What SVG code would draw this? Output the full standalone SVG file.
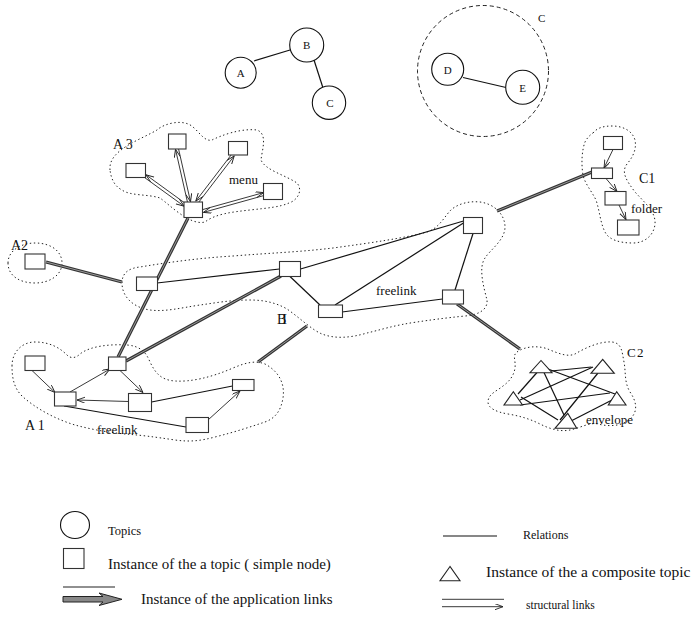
<svg xmlns="http://www.w3.org/2000/svg" width="693" height="621" viewBox="0 0 693 621">
<style>
text{font-family:"Liberation Serif","Times New Roman",serif;fill:#111}
.topic{fill:#fff;stroke:#111;stroke-width:1.1}
.node{fill:#fff;stroke:#333;stroke-width:1.1}
.tri{fill:#fff;stroke:#222;stroke-width:1.1}
.rel{stroke:#111;stroke-width:1.2;fill:none}
.str{stroke:#222;stroke-width:0.9;fill:none}
.arr{marker-end:url(#oa)}
.arrs{marker-start:url(#oas)}
.appo{stroke:#333;stroke-width:3.2;fill:none}
.appi{stroke:#999;stroke-width:1;fill:none}
.cloud{fill:none;stroke:#222;stroke-width:1;stroke-dasharray:1.4 2.6}
.big{font-size:14px}
.sm{font-size:11px}
.lab{font-size:13px}
</style>
<defs>
<marker id="oa" markerUnits="userSpaceOnUse" markerWidth="10" markerHeight="8" refX="8" refY="3" orient="auto"><path d="M0,0 L8,3 L0,6" fill="none" stroke="#222" stroke-width="0.9"/></marker>
<marker id="oas" markerUnits="userSpaceOnUse" markerWidth="10" markerHeight="8" refX="8" refY="3" orient="auto-start-reverse"><path d="M0,0 L8,3 L0,6" fill="none" stroke="#222" stroke-width="0.9"/></marker>
</defs>

<!-- clusters (dotted clouds) -->
<g id="clouds">
<path id="cloud-A3" class="cloud" d="M110,170 C108,150 140,140 157,130 C163,124 183,118 193,127 C200,133 205,142 212,140 C220,136 240,128 257,130 C268,134 262,150 261,160 C265,170 285,175 297,183 C303,190 298,200 289,203 C280,207 268,208 250,210 C232,212 215,214 205,222 C190,226 170,205 160,198 C148,194 130,196 122,190 C114,186 111,178 110,170 Z"/>
<path id="cloud-A2" class="cloud" d="M8,263 C8,250 22,243 35,243 C52,243 62,252 62,263 C62,275 50,283 35,283 C20,283 8,276 8,263 Z"/>
<path id="cloud-B" class="cloud" d="M122,283 C122,272 130,268 140,267 C170,262 200,258 233,256 C270,253 300,252 333,248 C370,243 405,238 427,232 C440,228 445,215 452,209 C460,203 470,201 480,202 C495,204 505,215 505,227 C505,240 490,250 485,258 C478,268 484,288 487,300 C488,310 478,315 465,316 C445,318 430,320 417,322 C395,325 380,330 367,333 C350,338 335,339 322,334 C312,330 300,318 287,309 C275,302 262,300 250,300 C230,300 215,303 200,305 C180,308 165,312 150,310 C135,308 122,298 122,283 Z"/>
<path id="cloud-A1" class="cloud" d="M12,366 C12,352 22,342 35,342 C50,342 60,348 67,355 C71,359 76,358 80,354 C90,346 110,344 127,345 C140,346 146,352 150,362 C155,372 160,380 175,381 C190,382 210,378 233,368 C245,363 255,360 265,364 C280,372 285,385 283,398 C281,410 276,418 265,422 C250,427 235,432 215,437 C200,441 190,442 175,440 C155,437 140,435 125,434 C105,432 90,429 75,425 C55,419 35,408 22,396 C14,388 12,378 12,366 Z"/>
<path id="cloud-C1" class="cloud" d="M593,133 C597,128 603,126 612,126 C622,126 632,130 635,140 C637,150 632,158 627,164 C621,172 626,180 635,192 C645,203 656,212 655,224 C654,235 645,243 633,243 C620,243 609,240 605,232 C600,222 600,212 596,200 C591,190 585,184 583,175 C581,163 582,150 585,142 C587,138 590,135 593,133 Z"/>
<path id="cloud-C2" class="cloud" d="M517,352 C525,346 540,345 550,350 C560,354 568,357 575,354 C585,348 600,341 612,342 C622,343 622,352 624,362 C626,372 624,382 630,392 C637,402 638,412 630,419 C622,426 610,427 598,424 C590,422 580,428 570,430 C560,432 550,429 540,424 C530,419 520,416 508,414 C496,412 488,408 488,402 C488,394 497,391 503,386 C510,381 514,375 515,368 C516,360 512,356 517,352 Z"/>
</g>

<!-- connectors -->
<g id="connectors">
<!-- topic relations -->
<line class="rel" x1="254" y1="61" x2="290" y2="50"/>
<line class="rel" x1="314" y1="60" x2="323" y2="88"/>
<line class="rel" x1="463" y1="77.5" x2="506" y2="87.5"/>
<!-- application links (double lines) -->
<g id="app-links">
<path class="appo" d="M188,218 L118,357"/><path class="appi" d="M188,218 L118,357"/>
<path class="appo" d="M46,262 L122,282"/><path class="appi" d="M46,262 L122,282"/>
<path class="appo" d="M281,276 L126,361"/><path class="appi" d="M281,276 L126,361"/>
<path class="appo" d="M307,326 L258,362"/><path class="appi" d="M307,326 L258,362"/>
<path class="appo" d="M457,304 L520,349"/><path class="appi" d="M457,304 L520,349"/>
<path class="appo" d="M592,172 L497,211"/><path class="appi" d="M592,172 L497,211"/>
</g>
<!-- A3 structural (bidirectional pairs) -->
<line class="str arrs" x1="175.5" y1="149.3" x2="187.5" y2="202.3"/>
<line class="str arr" x1="178.5" y1="148.7" x2="190.5" y2="201.7"/>
<line class="str arrs" x1="234.2" y1="155.9" x2="198.2" y2="202.9"/>
<line class="str arr" x1="231.8" y1="154.1" x2="195.8" y2="201.1"/>
<line class="str arrs" x1="145.9" y1="174.8" x2="185.9" y2="203.8"/>
<line class="str arr" x1="144.1" y1="177.2" x2="184.1" y2="206.2"/>
<line class="str arrs" x1="263.6" y1="192.6" x2="202.6" y2="209.6"/>
<line class="str arr" x1="264.4" y1="195.4" x2="203.4" y2="212.4"/>
<!-- C1 structural -->
<line class="str arr" x1="613" y1="149.5" x2="604" y2="168"/>
<line class="str arr" x1="606" y1="178.5" x2="617" y2="191.5"/>
<line class="str arr" x1="619" y1="205" x2="626" y2="219.5"/>
<!-- B relations -->
<line class="rel" x1="157" y1="283" x2="279.5" y2="269"/>
<line class="rel" x1="300.5" y1="269" x2="463.5" y2="221"/>
<line class="rel" x1="290" y1="276.5" x2="320" y2="305"/>
<line class="rel" x1="335" y1="305" x2="465" y2="222"/>
<line class="rel" x1="342" y1="312" x2="442.5" y2="299"/>
<line class="rel" x1="455" y1="290" x2="473" y2="233.5"/>
<!-- A1 -->
<line class="str arr" x1="32" y1="370.5" x2="55" y2="392.5"/>
<line class="str arr" x1="70" y1="392" x2="110" y2="369"/>
<line class="str arr" x1="120" y1="370.5" x2="143" y2="392.5"/>
<line class="str arr" x1="128.5" y1="401.5" x2="77" y2="400"/>
<line class="rel" x1="151.5" y1="402" x2="232.5" y2="386"/>
<line class="rel" x1="64" y1="406" x2="186" y2="427"/>
<line class="str arr" x1="208" y1="420" x2="240" y2="391"/>
<!-- C2 relations -->
<line class="rel" x1="551" y1="371" x2="591.5" y2="367"/>
<line class="rel" x1="537" y1="372.5" x2="518" y2="394"/>
<line class="rel" x1="544" y1="372.5" x2="564" y2="415"/>
<line class="rel" x1="548" y1="369" x2="615" y2="394"/>
<line class="rel" x1="593" y1="367" x2="520" y2="400"/>
<line class="rel" x1="598" y1="373" x2="560" y2="420"/>
<line class="rel" x1="520" y1="405" x2="610" y2="393"/>
<line class="rel" x1="521" y1="397" x2="558" y2="420"/>
<line class="rel" x1="614" y1="399" x2="571" y2="421"/>
</g>

<!-- topics -->
<g id="topic-A"><circle class="topic" cx="240.7" cy="72.7" r="15.5"/><text class="sm" x="240.7" y="76.7" text-anchor="middle">A</text></g>
<g id="topic-B"><circle class="topic" cx="306.7" cy="45" r="17"/><text class="sm" x="306.7" y="49" text-anchor="middle">B</text></g>
<g id="topic-C"><circle class="topic" cx="329" cy="102.7" r="16.7"/><text class="sm" x="330" y="107" text-anchor="middle">C</text></g>
<g id="composite-C">
<circle cx="483" cy="71" r="65.5" fill="none" stroke="#222" stroke-width="1" stroke-dasharray="4 3"/>
<text class="sm" x="538" y="22">C</text>
</g>
<g id="topic-D"><circle class="topic" cx="447.7" cy="69.3" r="16"/><text class="sm" x="447.7" y="73.5" text-anchor="middle">D</text></g>
<g id="topic-E"><circle class="topic" cx="522.7" cy="87.3" r="17"/><text class="sm" x="522.7" y="91.5" text-anchor="middle">E</text></g>

<!-- A3 nodes -->
<g id="A3">
<text class="big" x="113" y="149" font-size="15">A 3</text>
<text class="lab" x="229" y="184">menu</text>
<rect id="a3-top" class="node" x="168.5" y="134" width="17.5" height="15"/>
<rect id="a3-rt" class="node" x="228.5" y="141.5" width="19" height="13.5"/>
<rect id="a3-left" class="node" x="126" y="163.5" width="19.5" height="14"/>
<rect id="a3-menu" class="node" x="263.5" y="183.5" width="19" height="16"/>
<rect id="a3-center" class="node" x="184" y="202" width="18.5" height="15.5"/>
</g>

<!-- A2 -->
<g id="A2">
<text class="big" x="11" y="250">A2</text>
<rect class="node" x="25" y="254" width="20" height="15"/>
</g>

<!-- C1 -->
<g id="C1">
<text class="big" x="639" y="183">C1</text>
<text class="lab" x="631" y="213">folder</text>
<rect class="node" x="603.5" y="136.5" width="19" height="13"/>
<rect class="node" x="591.5" y="168" width="21" height="10.5"/>
<rect class="node" x="605" y="191.5" width="21" height="13.5"/>
<rect class="node" x="617.5" y="220" width="21.5" height="15"/>
</g>

<!-- B -->
<g id="B">
<text class="lab" x="376" y="295">freelink</text>
<text class="big" x="277" y="324" letter-spacing="-4">BI</text>
<rect class="node" x="136.5" y="277" width="21" height="13.5"/>
<rect class="node" x="279.5" y="261.5" width="21" height="15"/>
<rect class="node" x="318.5" y="305" width="24" height="12.5"/>
<rect class="node" x="463.5" y="217.5" width="19" height="16"/>
<rect class="node" x="442.5" y="290" width="21" height="14"/>
</g>

<!-- A1 -->
<g id="A1">
<text class="big" x="25" y="430">A 1</text>
<text class="lab" x="97" y="434">freelink</text>
<rect class="node" x="25" y="356" width="20" height="14.5"/>
<rect class="node" x="54.5" y="392" width="21.5" height="14"/>
<rect class="node" x="108.5" y="357" width="17.5" height="13.5"/>
<rect class="node" x="128.5" y="393.5" width="23" height="18"/>
<rect class="node" x="232.5" y="379.5" width="21.5" height="11"/>
<rect class="node" x="186" y="417.5" width="22.5" height="15"/>
</g>

<!-- C2 -->
<g id="C2">
<text class="lab" x="627" y="357" letter-spacing="-1">C 2</text>
<text class="lab" x="586" y="424">envelope</text>
<polygon class="tri" points="541,360.5 530,372.7 552,372.7"/>
<polygon class="tri" points="602.7,359.3 591,373.3 614.3,373.3"/>
<polygon class="tri" points="513.3,391.7 504,405 522.5,405"/>
<polygon class="tri" points="616.7,391.7 608.3,405 626,405"/>
<polygon class="tri" points="567.7,413.3 555,428.3 576.7,428.3"/>
</g>

<!-- legend -->
<g id="legend">
<ellipse class="topic" cx="75" cy="525" rx="14.5" ry="13.5"/>
<text x="108" y="535" font-size="12.5">Topics</text>
<rect class="node" x="63.5" y="548.5" width="20.5" height="20"/>
<text x="108" y="569" font-size="15">Instance of the a topic ( simple node)</text>
<line x1="63" y1="587" x2="115" y2="587" stroke="#222" stroke-width="1.2"/>
<path d="M63,596.5 L103,596.5 L99,593 L122,599.3 L99,605.5 L103,602 L63,602 Z" fill="#888" stroke="#222" stroke-width="1"/>
<text x="141" y="604" font-size="15">Instance of the application links</text>
<line class="rel" x1="443" y1="536" x2="497" y2="536"/>
<text x="523" y="539" font-size="12">Relations</text>
<polygon class="tri" points="450,566.5 440,580.7 460,580.7"/>
<text x="486" y="577" font-size="15.5">Instance of the a composite topic</text>
<line class="str" x1="442" y1="599.3" x2="504" y2="599.3"/>
<line class="str arr" x1="442" y1="606.7" x2="503" y2="606.7"/>
<text x="526" y="609" font-size="11.5">structural links</text>
</g>
</svg>
